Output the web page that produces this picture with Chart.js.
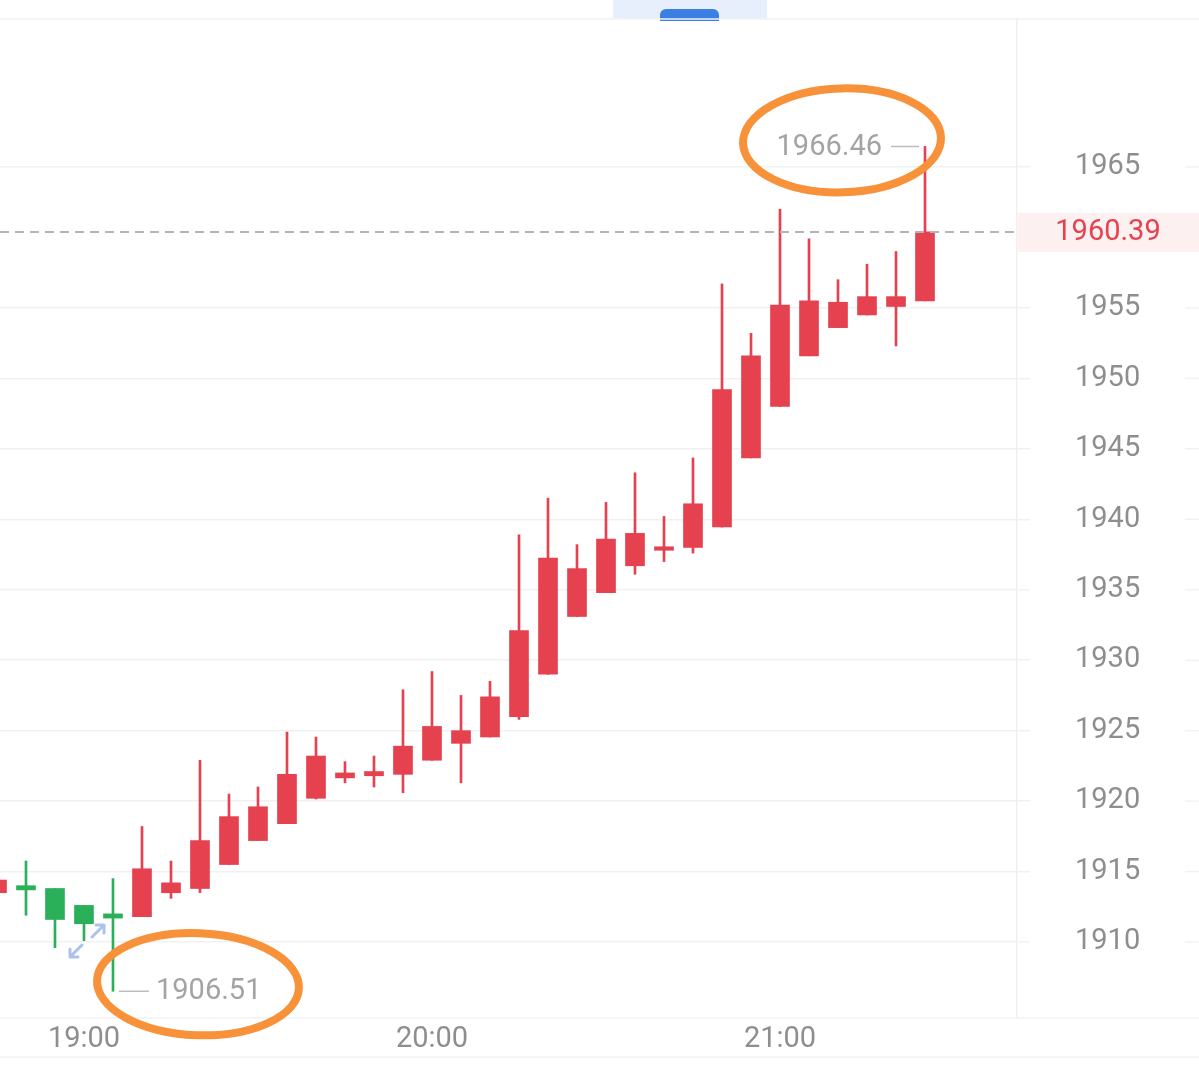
<!DOCTYPE html>
<html>
<head>
<meta charset="utf-8">
<script src="https://cdn.jsdelivr.net/npm/chart.js@4.4.1/dist/chart.umd.min.js"></script>
<style>
  html, body { margin: 0; padding: 0; background: #fff; }
  #wrap { width: 1199px; height: 1067px; position: relative; }
</style>
</head>
<body>
<div id="wrap"><canvas id="kline"></canvas></div>
<script>
// 5 minute candles
const times = ["18:45", "18:50", "18:55", "19:00", "19:05", "19:10", "19:15", "19:20", "19:25", "19:30", "19:35",
  "19:40", "19:45", "19:50", "19:55", "20:00", "20:05", "20:10", "20:15", "20:20", "20:25", "20:30", "20:35",
  "20:40", "20:45", "20:50", "20:55", "21:00", "21:05", "21:10", "21:15", "21:20", "21:25"];
const opens = [1913.5, 1914.0, 1913.8, 1912.6, 1912.0, 1911.8, 1913.5, 1913.8, 1915.5, 1917.2, 1918.4,
  1920.2, 1921.65, 1921.8, 1921.9, 1922.9, 1924.1, 1924.55, 1926.0, 1929.0, 1933.1, 1934.8, 1936.7,
  1937.8, 1938.0, 1939.45, 1944.35, 1948.0, 1951.6, 1953.6, 1954.5, 1955.1, 1955.5];
const highs = [1914.6, 1915.75, 1913.8, 1912.6, 1914.5, 1918.2, 1915.75, 1922.9, 1920.5, 1921.0, 1924.9,
  1924.55, 1922.8, 1923.2, 1927.9, 1929.2, 1927.5, 1928.5, 1938.9, 1941.5, 1938.2, 1941.2, 1943.3,
  1940.2, 1944.35, 1956.7, 1953.2, 1962.0, 1959.9, 1957.0, 1958.1, 1959.0, 1966.46];
const lows = [1913.4, 1911.9, 1909.6, 1910.1, 1906.51, 1911.8, 1913.1, 1913.5, 1915.5, 1917.2, 1918.4,
  1920.15, 1921.3, 1921.0, 1920.6, 1922.9, 1921.3, 1924.55, 1925.8, 1929.0, 1933.1, 1934.8, 1936.1,
  1937.0, 1937.6, 1939.45, 1944.35, 1948.0, 1951.6, 1953.6, 1954.5, 1952.3, 1955.5];
const closes = [1914.4, 1913.7, 1911.6, 1911.3, 1911.7, 1915.2, 1914.2, 1917.2, 1918.9, 1919.6, 1921.9,
  1923.2, 1922.0, 1922.1, 1923.9, 1925.3, 1925.0, 1927.4, 1932.1, 1937.25, 1936.5, 1938.6, 1939.0,
  1938.05, 1941.1, 1949.2, 1951.6, 1955.2, 1955.5, 1955.4, 1955.8, 1955.8, 1960.39];
const yTicks = [1910, 1915, 1920, 1925, 1930, 1935, 1940, 1945, 1950, 1955, 1965];
const xTicks = ["19:00", "20:00", "21:00"];
const lastPrice = 1960.39;

const colors = {
  up: "#e5414f",
  down: "#2bb05a",
  grid: "#f1f1f1",
  tick: "#8e8e8e",
  mark: "#a3a3a3",
  orange: "#f7923a",
  dash: "#b4b4b4",
};

const toMin = s => {
  const [h, m] = s.split(":").map(Number);
  return h * 60 + m;
};
const fmtMin = v => {
  const h = Math.floor(v / 60), m = Math.round(v % 60);
  return h + ":" + String(m).padStart(2, "0");
};

const xs = times.map(toMin);
const candleColors = xs.map((_, i) => closes[i] >= opens[i] ? colors.up : colors.down);
const font = { family: "Roboto", size: 29 };

const markPlugin = {
  id: "marks",
  beforeDraw(chart) {
    const ctx = chart.ctx;
    ctx.save();
    // tab indicator at the top
    ctx.fillStyle = "#e6effb";
    ctx.fillRect(613, 0, 154, 19);
    ctx.fillStyle = "#3b7fe2";
    ctx.beginPath();
    ctx.roundRect(660, 9, 59, 12, [6, 6, 0, 0]);
    ctx.fill();
    ctx.strokeStyle = "#f2f2f2";
    ctx.lineWidth = 1.5;
    [19, 1018, 1057].forEach(y => {
      ctx.beginPath();
      ctx.moveTo(0, y);
      ctx.lineTo(1199, y);
      ctx.stroke();
    });
    const ys = chart.scales.y;
    yTicks.forEach(v => {
      const y = ys.getPixelForValue(v);
      ctx.beginPath();
      ctx.moveTo(1185, y);
      ctx.lineTo(1199, y);
      ctx.stroke();
    });
    ctx.restore();
  },
  afterDatasetsDraw(chart) {
    const ctx = chart.ctx;
    const xs_ = chart.scales.x, ys = chart.scales.y;
    const area = chart.chartArea;
    ctx.save();

    // last price dashed line
    const yLast = ys.getPixelForValue(lastPrice);
    ctx.strokeStyle = colors.dash;
    ctx.lineWidth = 2;
    ctx.setLineDash([9, 6]);
    ctx.beginPath();
    ctx.moveTo(area.left, yLast);
    ctx.lineTo(area.right, yLast);
    ctx.stroke();
    ctx.setLineDash([]);

    ctx.fillStyle = "#fdf0f0";
    ctx.fillRect(area.right + 1, yLast - 19, 1199 - area.right, 39);
    ctx.fillStyle = colors.up;
    ctx.font = "29px Roboto";
    ctx.textAlign = "center";
    ctx.textBaseline = "middle";
    ctx.fillText(lastPrice.toFixed(2), 1108, yLast + 1);

    // highest and lowest marks
    const hi = highs.indexOf(Math.max(...highs));
    const lo = lows.indexOf(Math.min(...lows));
    const hx = xs_.getPixelForValue(xs[hi]), hy = ys.getPixelForValue(highs[hi]);
    const lx = xs_.getPixelForValue(xs[lo]), ly = ys.getPixelForValue(lows[lo]);
    ctx.strokeStyle = "#bdbdbd";
    ctx.lineWidth = 1.5;
    ctx.beginPath();
    ctx.moveTo(hx - 6, hy); ctx.lineTo(hx - 34, hy);
    ctx.moveTo(lx + 6, ly); ctx.lineTo(lx + 36, ly);
    ctx.stroke();
    ctx.fillStyle = colors.mark;
    ctx.textAlign = "right";
    ctx.fillText(highs[hi].toFixed(2), hx - 43, hy + 1);
    ctx.textAlign = "left";
    ctx.fillText(lows[lo].toFixed(2), lx + 43, ly + 1);

    // orange circles around the two marks
    ctx.strokeStyle = colors.orange;
    ctx.lineWidth = 8;
    ctx.beginPath();
    ctx.ellipse(hx - 83, hy - 6, 99, 52, -0.03, 0, Math.PI * 2);
    ctx.stroke();
    ctx.beginPath();
    ctx.ellipse(lx + 85, ly - 7, 101, 51, 0.04, 0, Math.PI * 2);
    ctx.stroke();

    // small expand icon
    ctx.strokeStyle = "#a9c2f0";
    ctx.lineWidth = 3;
    ctx.lineCap = "round";
    ctx.beginPath();
    ctx.moveTo(70, 957); ctx.lineTo(82, 945);
    ctx.moveTo(70, 957); ctx.lineTo(70, 949);
    ctx.moveTo(70, 957); ctx.lineTo(78, 957);
    ctx.moveTo(104, 925); ctx.lineTo(92, 937);
    ctx.moveTo(104, 925); ctx.lineTo(104, 933);
    ctx.moveTo(104, 925); ctx.lineTo(96, 925);
    ctx.stroke();
    ctx.restore();
  }
};

new Chart(document.getElementById("kline"), {
  type: "bar",
  data: {
    datasets: [
      {
        label: "body",
        data: xs.map((x, i) => ({ x: x, y: [opens[i], closes[i]] })),
        backgroundColor: candleColors,
        barThickness: 19,
        grouped: false,
      },
      {
        label: "wick",
        data: xs.map((x, i) => ({ x: x, y: [lows[i], highs[i]] })),
        backgroundColor: candleColors,
        barThickness: 2,
        grouped: false,
      }
    ]
  },
  options: {
    responsive: true,
    maintainAspectRatio: false,
    animation: false,
    layout: { padding: { top: 19, left: 0, right: 0, bottom: 0 } },
    plugins: {
      legend: { display: false },
      tooltip: { enabled: false }
    },
    scales: {
      x: {
        type: "linear",
        min: 1125.52,
        max: 1300.86,
        offset: false,
        grid: { display: false, drawTicks: false },
        border: { display: false },
        afterBuildTicks: scale => { scale.ticks = xTicks.map(t => ({ value: toMin(t) })); },
        afterFit: scale => {
          scale.height = 49;
          scale.paddingLeft = 0;
          scale.paddingRight = 0;
        },
        ticks: {
          font: font,
          color: colors.tick,
          padding: 4,
          maxRotation: 0,
          autoSkip: false,
          callback: v => fmtMin(v)
        }
      },
      y: {
        position: "right",
        min: 1904.61,
        max: 1975.5,
        grid: { color: colors.grid, lineWidth: 1.5, drawTicks: true, tickLength: 13 },
        border: { display: true, color: "#efefef", width: 1.5 },
        afterBuildTicks: scale => { scale.ticks = yTicks.map(v => ({ value: v })); },
        afterFit: scale => {
          scale.width = 182;
          scale.paddingTop = 0;
          scale.paddingBottom = 0;
        },
        ticks: {
          font: font,
          color: colors.tick,
          crossAlign: "center",
          padding: 45,
          callback: v => String(v)
        }
      }
    }
  },
  plugins: [markPlugin]
});
</script>
</body>
</html>
